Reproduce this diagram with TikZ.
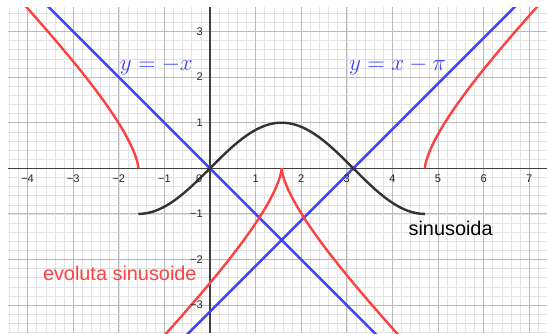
\documentclass[tikz,border=0pt]{standalone}
\usepackage{fontspec}
\setmainfont{Liberation Sans}
\definecolor{ggblue}{RGB}{64,64,255}
\definecolor{ggred}{RGB}{255,64,64}
\definecolor{ggdark}{RGB}{51,51,51}
\definecolor{ggaxis}{RGB}{64,64,64}
\tikzset{
  minorgrid/.style={draw=black!11, line width=0.35pt},
  majorgrid/.style={draw=black!27, line width=0.6pt},
  axisline/.style={draw=ggaxis, line width=1pt},
  curve/.style={line width=1.5pt, line join=round},
  ticklab/.style={font=\fontsize{6.9}{7}\selectfont, inner sep=0pt, text=black!85},
  biglab/.style={font=\fontsize{12.4}{14}\selectfont, inner sep=0pt},
  mathlab/.style={font=\fontsize{14.3}{16}\selectfont, inner sep=0pt, text=ggblue}
}
\begin{document}
\begin{tikzpicture}
\useasboundingbox (-4.605,-3.612) rectangle (7.390,3.691);
\begin{scope}
\clip (-4.43,-3.612) rectangle (7.39,3.537);
\draw[minorgrid] (-4.43,-3.612) grid[step=0.2] (7.39,3.537);
\draw[majorgrid] (-4.43,-3.612) grid[step=1] (7.39,3.537);
\draw[axisline] (-4.43,0) -- (7.39,0);
\draw[axisline] (0,-3.612) -- (0,3.537);
% asymptotes
\draw[curve, ggblue] (-5,5) -- (5,-5);
\draw[curve, ggblue] (-2,-5.1416) -- (9,5.8584);
% sine
\draw[curve, ggdark] plot[domain=-1.5708:4.7124, samples=160, variable=\t] (\t, {sin(\t r)});
% evolute
\foreach \a/\b in {-1.5708/-0.25, 0.25/1.5708, 1.5708/2.8916, 3.3916/4.7124}{
  \draw[curve, ggred] plot[domain=\a:\b, samples=150, variable=\t]
    ({\t + cos(\t r)*(1+cos(\t r)*cos(\t r))/sin(\t r)},
     {sin(\t r) - (1+cos(\t r)*cos(\t r))/sin(\t r)});
}
\end{scope}
% tick labels
\foreach \k in {-4,-3,-2,-1}{
  \node[ticklab, anchor=base] (xl\k) at (\k,-0.307) {−\the\numexpr-\k\relax};
}
\foreach \k in {1,...,7}{
  \node[ticklab, anchor=base] (xl\k) at (\k,-0.307) {\k};
}
\node[ticklab, anchor=base] (x0) at (-0.235,-0.307) {0};
\foreach \k in {-3,-2,-1}{
  \node[ticklab, anchor=east] (yl\k) at (-0.15,\k) {−\the\numexpr-\k\relax};
}
\foreach \k in {1,2,3}{
  \node[ticklab, anchor=east] (yl\k) at (-0.15,\k) {\k};
}
% labels
\node[mathlab, anchor=base] (lab1) at (-1.177,2.15) {$y=-x$};
\node[mathlab, anchor=base] (lab2) at (4.115,2.15) {$y=x-\pi$};
\node[biglab, anchor=base west, text=black] (lab3) at (4.349,-1.463) {sinusoida};
\node[biglab, anchor=base west, text=ggred] (lab4) at (-3.669,-2.465) {evoluta sinusoide};
\end{tikzpicture}
\end{document}
